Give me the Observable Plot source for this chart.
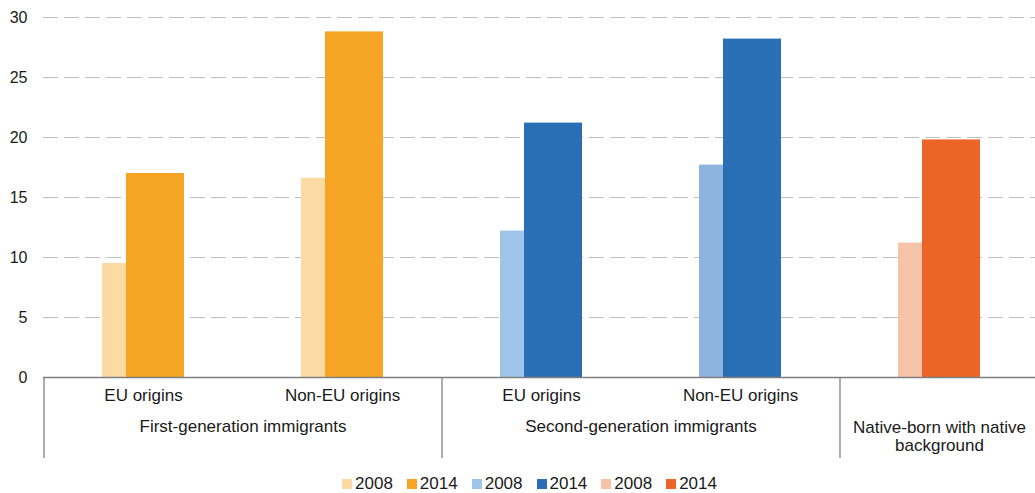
<!DOCTYPE html>
<html>
<head>
<meta charset="utf-8">
<script src="https://cdn.jsdelivr.net/npm/d3@7"></script>
<script src="https://cdn.jsdelivr.net/npm/@observablehq/plot@0.6"></script>
<style>
  html, body { margin: 0; padding: 0; background: #fff; }
  body { width: 1035px; height: 493px; overflow: hidden; font-family: "Liberation Sans", Arial, sans-serif; }
  #chart svg { display: block; }
  #legend { display: flex; justify-content: center; align-items: center; margin-top: 10px; margin-left: 24px; font-size: 17px; line-height: 17px; color: #1a1a1a; }
  #legend .item { display: flex; align-items: center; margin: 0 7px; }
  #legend .sw { width: 10px; height: 10px; margin-right: 3px; }
</style>
</head>
<body>
<div id="chart"></div>
<div id="legend"></div>
<script>
// ---- data ----
const keys = ["first-eu", "first-noneu", "second-eu", "second-noneu", "native"];
const categoryLabels = ["EU origins", "Non-EU origins", "EU origins", "Non-EU origins", ""];
const groupLabels = ["First-generation immigrants", "Second-generation immigrants", "Native-born with native\nbackground"];
const groupStartIndex = [0, 2, 4];
const groupSize = [2, 2, 1];
const values2008 = [9.5, 16.6, 12.2, 17.7, 11.2];
const values2014 = [17.0, 28.8, 21.2, 28.2, 19.8];
const yTicks = [0, 5, 10, 15, 20, 25, 30];
const legendLabels = ["2008", "2014", "2008", "2014", "2008", "2014"];

// ---- palette ----
const colors2008 = ["#FBDAA4", "#FBDAA4", "#A0C4E9", "#8FB3DF", "#F7C3A8"];
const colors2014 = ["#F5A523", "#F5A523", "#2A6EB5", "#2A6EB5", "#EB6529"];
const legendColors = ["#FBDAA4", "#F5A523", "#A0C4E9", "#2A6EB5", "#F7C3A8", "#EB6529"];

const table = keys.map((k, i) => ({
  key: k, label: categoryLabels[i],
  v2008: values2008[i], v2014: values2014[i],
  c2008: colors2008[i], c2014: colors2014[i]
}));
const groups = groupLabels.map((g, i) => ({ label: g, key: keys[groupStartIndex[i]], size: groupSize[i] }));

const W = 1035, H = 465, mL = 43, mR = -3, mT = 17, mB = 88;
const step = (W - mL - mR) / keys.length;
const barW = 58;
const pIn = 1 - barW / step;
const shift = 12;

const chart = Plot.plot({
  width: W, height: H,
  marginLeft: mL, marginRight: mR, marginTop: mT, marginBottom: mB,
  style: { fontFamily: "'Liberation Sans', Arial, sans-serif", fontSize: "16px", color: "#1a1a1a", background: "#fff" },
  x: { domain: keys, paddingInner: pIn, paddingOuter: pIn / 2, axis: null },
  y: { domain: [0, 30], axis: null },
  color: { type: "identity" },
  marks: [
    Plot.ruleY(yTicks.filter(d => d > 0), { stroke: "#c0c0c0", strokeWidth: 1.2, strokeDasharray: "15,6" }),
    Plot.axisY({ ticks: yTicks, tickSize: 0, tickPadding: 16, fontSize: 16, fill: "#1a1a1a", tickFormat: d => String(d) }),
    Plot.barY(table, { x: "key", y: "v2008", fill: "c2008", dx: -shift }),
    Plot.barY(table, { x: "key", y: "v2014", fill: "c2014", dx: shift }),
    Plot.ruleY([0], { stroke: "#7f7f7f", strokeWidth: 1.5 }),
    Plot.ruleX(groups, { x: "key", dx: -step / 2, stroke: "#808080", strokeWidth: 1.3, insetTop: H - mT - mB, insetBottom: -81 }),
    Plot.text(table, { x: "key", y: 0, text: "label", dy: 11, lineAnchor: "top", fontSize: 17, fill: "#1a1a1a" }),
    Plot.text(groups.filter(g => g.size === 2), { x: "key", y: 0, text: "label", dx: step / 2, lineAnchor: "top", dy: 42, fontSize: 17, fill: "#1a1a1a" }),
    Plot.text(groups.filter(g => g.size === 1), { x: "key", y: 0, text: "label", lineAnchor: "top", dy: 42, fontSize: 17, lineHeight: 1.1, fill: "#1a1a1a" })
  ]
});
document.getElementById("chart").append(chart);

// legend
const lg = document.getElementById("legend");
legendLabels.forEach((lab, i) => {
  const it = document.createElement("div");
  it.className = "item";
  const sw = document.createElement("span");
  sw.className = "sw";
  sw.style.background = legendColors[i];
  const tx = document.createElement("span");
  tx.textContent = lab;
  it.append(sw, tx);
  lg.append(it);
});
</script>
</body>
</html>
